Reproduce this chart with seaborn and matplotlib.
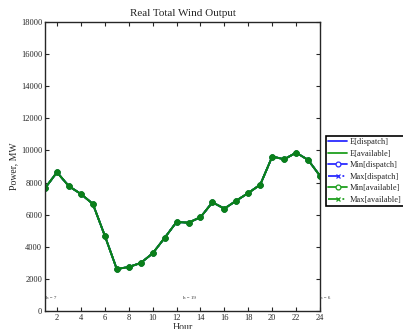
import numpy as np
import pandas as pd
import matplotlib
matplotlib.use("Agg")
import matplotlib.pyplot as plt
import seaborn as sns

hours = list(range(1, 25))
e_dispatch = [7650, 8640, 7770, 7290, 6670, 4690, 2615, 2740, 2990, 3590, 4550, 5545,
              5500, 5840, 6770, 6375, 6875, 7350, 7870, 9620, 9450, 9860, 9410, 8410]
e_available = list(e_dispatch)
min_dispatch = list(e_dispatch)
max_dispatch = list(e_dispatch)
min_available = list(e_available)
max_available = list(e_available)

series_names = ["E[dispatch]", "E[available]", "Min[dispatch]", "Max[dispatch]",
                "Min[available]", "Max[available]"]
series_values = [e_dispatch, e_available, min_dispatch, max_dispatch,
                 min_available, max_available]
annotations = [(1.05, "h = 7"), (12.55, "h = 19"), (24.0, "h = 6")]

sns.set_style("ticks")
plt.rcParams["font.family"] = ["Liberation Serif", "DejaVu Serif"]

fig = plt.figure(figsize=(4.03, 3.29), dpi=100)
ax = fig.add_axes([0.1117, 0.0547, 0.6825, 0.8785])

blue = "#2b2bff"
green = "#1f9f1f"
styles = {
    "E[dispatch]": dict(color=blue, linestyle="-", marker=None),
    "E[available]": dict(color=green, linestyle="-", marker=None),
    "Min[dispatch]": dict(color=blue, linestyle="-", marker="o", markersize=3.5,
                          markerfacecolor="white"),
    "Max[dispatch]": dict(color=blue, linestyle="-.", marker="x", markersize=2.5),
    "Min[available]": dict(color=green, linestyle="-", marker="o", markersize=3.5,
                           markerfacecolor="white"),
    "Max[available]": dict(color=green, linestyle="-.", marker="x", markersize=2.5),
}

df = pd.DataFrame({"Hour": hours})
for name, vals in zip(series_names, series_values):
    df[name] = vals

for name in series_names:
    st = styles[name]
    kw = dict(color=st["color"], linestyle=st["linestyle"], linewidth=1.3, label=name)
    if st["marker"]:
        kw.update(marker=st["marker"], markersize=st.get("markersize", 4),
                  markerfacecolor=st.get("markerfacecolor", st["color"]),
                  markeredgecolor=st["color"], markeredgewidth=0.9)
    sns.lineplot(data=df, x="Hour", y=name, ax=ax, **kw)

# dark green trace drawn on top of the overlapping series
sns.lineplot(data=df, x="Hour", y="Min[available]", ax=ax, color="#0a7f1a",
             linewidth=1.3, marker="o", markersize=4, markerfacecolor="#0a7f1a",
             markeredgecolor="#0a7f1a", legend=False)

ax.set_xlim(1, 24)
ax.set_ylim(0, 18000)
ax.set_xticks(range(2, 25, 2))
ax.set_yticks(range(0, 18001, 2000))
ax.tick_params(direction="in", top=True, right=True, labelsize=6, length=3, width=0.8,
               pad=2)
for s in ax.spines.values():
    s.set_linewidth(1.0)
ax.set_title("Real Total Wind Output", fontsize=8, pad=4)
ax.set_xlabel("Hour", fontsize=7, labelpad=1)
ax.set_ylabel("Power, MW", fontsize=7, labelpad=2)

for hx, txt in annotations:
    ax.text(hx, 820, txt, fontsize=3.6, color="#333333", ha="left", va="center")

handles, labels = ax.get_legend_handles_labels()
if ax.get_legend():
    ax.get_legend().remove()
leg = fig.legend(handles[:6], labels[:6], loc="upper left",
                 bbox_to_anchor=(0.808, 0.588), fontsize=6.0, frameon=True,
                 fancybox=False, edgecolor="black", framealpha=1, borderpad=0.3,
                 labelspacing=0.42, handlelength=2.3, handletextpad=0.3,
                 borderaxespad=0)
leg.get_frame().set_linewidth(1.2)

fig.savefig("out.png", dpi=100)
